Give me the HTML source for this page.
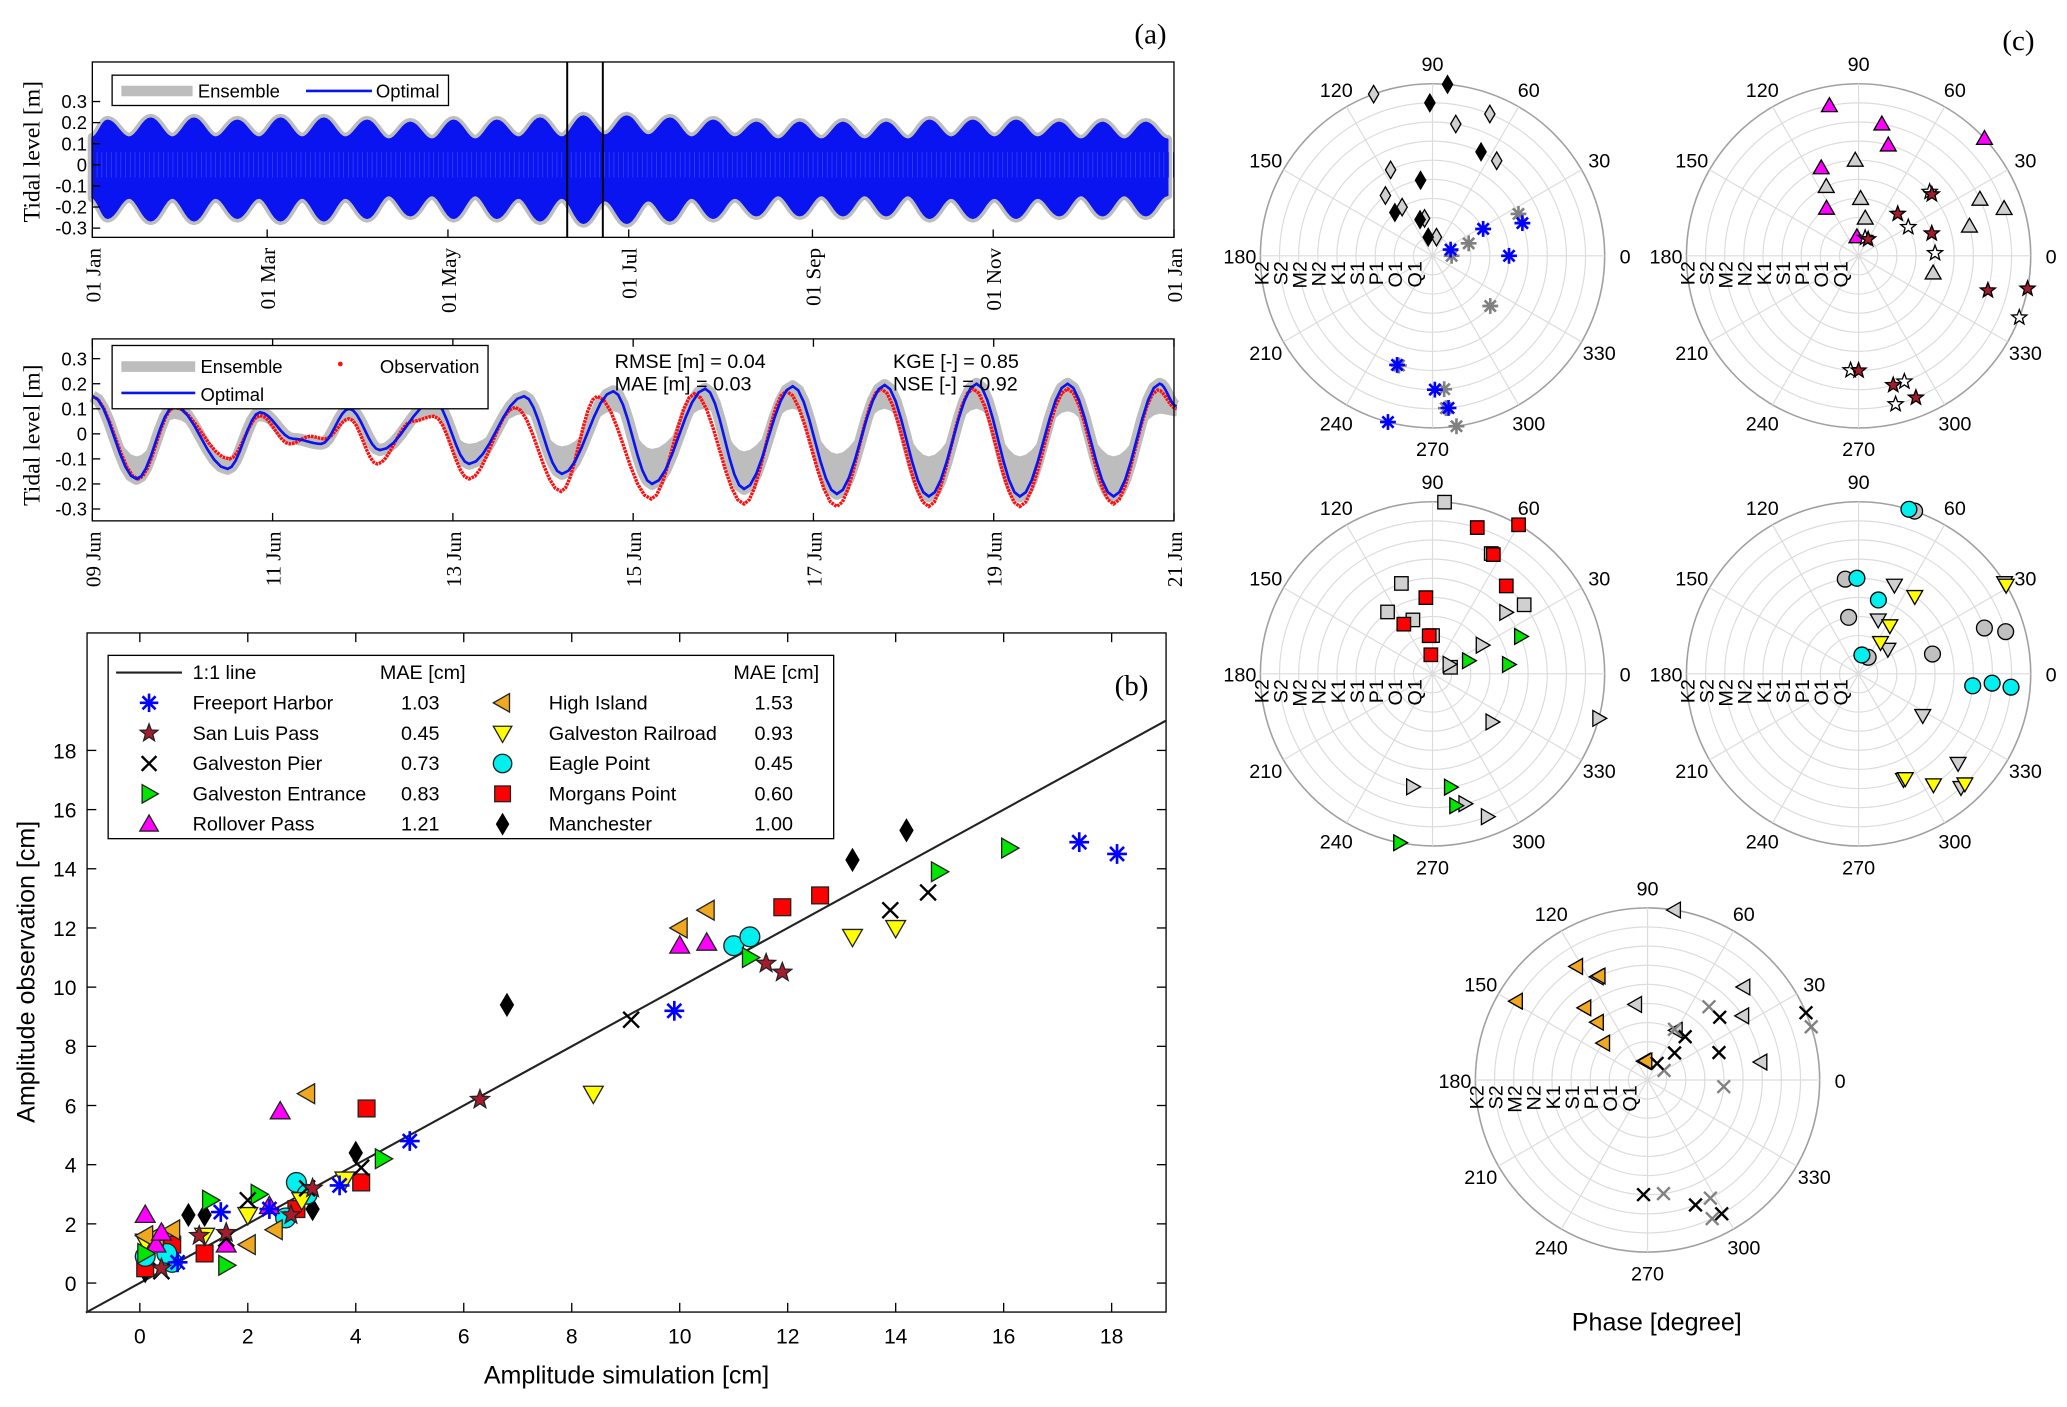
<!DOCTYPE html>
<html><head><meta charset="utf-8"><style>
html,body{margin:0;padding:0;background:#fff}
svg{display:block}
.sans{font-family:"Liberation Sans",Arial,sans-serif}
.serif{font-family:"Liberation Serif","Times New Roman",serif}
</style></head><body>
<svg id="fig" width="2067" height="1407" viewBox="0 0 1567 1067" preserveAspectRatio="none" xmlns="http://www.w3.org/2000/svg">
<rect width="1567" height="1067" fill="#fff"/>
<g id="pa1"></g>
<g id="pa2"></g>
<g id="pb"></g>
<g id="pc"></g>
</svg>
<script>
// ---------- DATA ----------
const springAmp=[0.21,0.22,0.22,0.21,0.22,0.22,0.21,0.20,0.21,0.21,0.22,0.23,0.23,0.22,0.21,0.20,0.20,0.20,0.20,0.21,0.21,0.21,0.20,0.20,0.20];
const neapAmp=[0.13,0.13,0.13,0.13,0.13,0.13,0.12,0.12,0.12,0.13,0.13,0.14,0.14,0.13,0.13,0.12,0.12,0.12,0.12,0.13,0.13,0.13,0.12,0.12,0.12];
const monthTicks=["01 Jan","01 Mar","01 May","01 Jul","01 Sep","01 Nov","01 Jan"];
const monthDays=[0,59,120,181,243,304,365];
const obsT=[0,0.51,0.91,1.52,1.86,2.19,2.42,2.58,2.85,3.16,3.55,3.79,4.18,4.69,5.2,5.6,6.2,6.68,7.23,7.7,8.26,8.75,9.28,9.77,10.29,10.82,11.33,11.82,12.03];
const obsV=[0.15,-0.18,0.106,-0.10,0.073,-0.04,-0.01,-0.02,0.06,-0.12,0.05,0.07,-0.18,0.106,-0.23,0.15,-0.26,0.16,-0.28,0.17,-0.29,0.18,-0.29,0.18,-0.29,0.18,-0.28,0.175,0.10];
const optT=[0,0.49,0.91,1.5,1.86,2.23,2.54,2.85,3.19,3.79,4.18,4.79,5.21,5.78,6.21,6.8,7.23,7.77,8.26,8.79,9.28,9.81,10.29,10.82,11.33,11.84,12.03];
const optV=[0.15,-0.18,0.11,-0.14,0.086,-0.02,-0.04,0.10,-0.065,0.13,-0.12,0.15,-0.16,0.17,-0.20,0.18,-0.22,0.19,-0.24,0.195,-0.25,0.20,-0.25,0.20,-0.25,0.20,0.11];
const ensInnerV=[0.12,-0.09,0.06,-0.10,0.05,-0.03,-0.05,0.06,-0.04,0.07,-0.04,0.08,-0.05,0.09,-0.06,0.10,-0.07,0.10,-0.08,0.10,-0.09,0.10,-0.09,0.09,-0.09,0.08,0.07];
const juneTicks=["09 Jun","11 Jun","13 Jun","15 Jun","17 Jun","19 Jun","21 Jun"];
const levelTicks=[0.3,0.2,0.1,0,-0.1,-0.2,-0.3];
const stations=["Freeport Harbor","San Luis Pass","Galveston Pier","Galveston Entrance","Rollover Pass","High Island","Galveston Railroad","Eagle Point","Morgans Point","Manchester"];
const stationMAE=["1.03","0.45","0.73","0.83","1.21","1.53","0.93","0.45","0.60","1.00"];
const simFreeport=[17.4,18.1,9.9,5.0,3.7,1.5,2.4,0.7], obsFreeport=[14.9,14.5,9.2,4.8,3.3,2.4,2.5,0.7];
const simSanLuis=[6.3,11.6,11.9,1.1,1.6,0.4,3.2,2.8], obsSanLuis=[6.2,10.8,10.5,1.6,1.7,0.5,3.2,2.3];
const simPier=[14.6,13.9,9.1,4.1,0.4,3.1,1.6,2.0], obsPier=[13.2,12.6,8.9,3.9,0.4,3.2,1.5,2.8];
const simEntrance=[16.1,14.8,11.3,4.5,1.3,2.2,1.6,0.1], obsEntrance=[14.7,13.9,11.0,4.2,2.8,3.0,0.6,1.0];
const simRollover=[2.6,10.0,10.5,0.1,1.6,2.4,0.3,0.4], obsRollover=[5.8,11.4,11.5,2.3,1.3,2.6,1.3,1.7];
const simHigh=[3.1,10.0,10.5,2.5,2.0,0.3,0.6,0.1], obsHigh=[6.4,12.0,12.6,1.8,1.3,1.6,1.8,1.6];
const simRail=[8.4,13.2,14.0,3.8,1.2,2.0,0.1,3.0], obsRail=[6.4,11.7,12.0,3.5,1.6,2.3,1.4,2.8];
const simEagle=[11.0,11.3,2.9,3.1,2.7,0.6,0.1,0.5], obsEagle=[11.4,11.7,3.4,3.0,2.2,0.7,0.9,1.0];
const simMorgans=[11.9,12.6,4.2,4.1,2.9,1.2,0.6,0.1], obsMorgans=[12.7,13.1,5.9,3.4,2.5,1.0,1.3,0.5];
const simManch=[14.2,13.2,6.8,4.0,3.2,0.9,1.2,0.1], obsManch=[15.3,14.3,9.4,4.4,2.5,2.3,2.3,0.4];
const ampTicks=[0,2,4,6,8,10,12,14,16,18];
const constituents=["Q1","O1","P1","S1","K1","N2","M2","S2","K2"];
const angleTicks=[0,30,60,90,120,150,180,210,240,270,300,330];
const p1ObsRing=[9,8,6,4,3,2,1], p1ObsPh=[85,91,65,99,131,109,103];
const p1SimRing=[9,8,7,6,5,4,3,2,1], p1SimPh=[110,68,80,56,116,128,122,102,78];
const p1bObsRing=[5,4,3,1,6,7,8,9], p1bObsPh=[20,0,28,19,252,271,276,255];
const p1bSimRing=[5,2,3,1,4,6,7,8,9], p1bSimPh=[26,19,28,0,319,253,275,275,278];
const p2ObsRing=[8,7,6,9,5,3,1], p2ObsPh=[101,80,75,43,113,124,95];
const p2SimRing=[5,4,3,2,7,8,6,4], p2SimPh=[92,115,88,80,25,18,15,347];
const p2bObsRing=[7,9,4,3,5,6,7,8,1], p2bObsPh=[345,349,17,47,40,270,285,292,60];
const p2bSimRing=[9,4,5,3,6,7,8,1], p2bSimPh=[339,2,42,30,266,290,284,70];
const p3ObsRing=[9,8,7,6,4,3,2,1], p3ObsPh=[60,73,63,50,95,120,95,95];
const p3SimRing=[9,7,6,5,4,3,2,1], p3SimPh=[86,64,37,109,126,110,90,20];
const p3bObsRing=[5,4,2,6,7,9], p3bObsPh=[23,7,20,279,280,259];
const p3bSimRing=[5,3,1,9,4,6,7,8], p3bSimPh=[40,30,30,345,321,260,284,291];
const p4ObsRing=[9,5,4,1,6,7,8], p4ObsPh=[73,91,75,80,354,356,355];
const p4SimRing=[9,5,3,1,7,8,4], p4SimPh=[71,98,100,60,20,16,15];
const p4bObsRing=[5,3,2,9,7,8,6], p4bObsPh=[54,57,55,31,304,314,294];
const p4bSimRing=[5,3,2,9,4,6,7,8], p4bSimPh=[68,70,40,32,327,293,318,312];
const p5ObsRing=[8,7,6,5,4,3,1], p5ObsPh=[149,122,115,131,131,140,95];
const p5SimRing=[9,7,6,3,6,4,6,1], p5SimPh=[81,44,34,60,116,99,9,100];
const p5bObsRing=[9,5,3,4,1,2,6,7,8], p5bObsPh=[23,41,49,21,60,45,268,291,299];
const p5bSimRing=[9,4,3,5,1,6,7,8], p5bSimPh=[18,355,62,50,30,278,298,295];

// ---------- HELPERS ----------
const NS="http://www.w3.org/2000/svg";
function mk(parent,tag,attrs){const e=document.createElementNS(NS,tag);for(const k in attrs)e.setAttribute(k,attrs[k]);parent.appendChild(e);return e;}
function txt(parent,x,y,s,size,cls,anchor,extra){const t=mk(parent,'text',Object.assign({x:x,y:y,'font-size':size,'class':cls,'text-anchor':anchor||'start',fill:'#000'},extra||{}));t.textContent=s;return t;}
function tidePath(ts,vs,X,Y){let d='M'+X(ts[0])+','+Y(vs[0]);for(let i=0;i<ts.length-1;i++){const n=8;for(let j=1;j<=n;j++){const f=j/n;const w=(1-Math.cos(Math.PI*f))/2;d+=' L'+X(ts[i]+(ts[i+1]-ts[i])*f).toFixed(2)+','+Y(vs[i]+(vs[i+1]-vs[i])*w).toFixed(2);}}return d;}
function marker(g,type,x,y,s,fill,stroke){
  let e;const h=s/2;const sw=1;
  if(type==='ast'){e=mk(g,'g',{});for(const a of [0,45,90,135]){const r=a*Math.PI/180;mk(e,'line',{x1:x-h*Math.cos(r),y1:y-h*Math.sin(r),x2:x+h*Math.cos(r),y2:y+h*Math.sin(r),stroke:fill,'stroke-width':2});}}
  else if(type==='x'){e=mk(g,'g',{});mk(e,'line',{x1:x-h*0.8,y1:y-h*0.8,x2:x+h*0.8,y2:y+h*0.8,stroke:fill,'stroke-width':1.8});mk(e,'line',{x1:x-h*0.8,y1:y+h*0.8,x2:x+h*0.8,y2:y-h*0.8,stroke:fill,'stroke-width':1.8});}
  else if(type==='circ'){e=mk(g,'circle',{cx:x,cy:y,r:h,fill:fill,stroke:stroke,'stroke-width':sw});}
  else if(type==='sq'){e=mk(g,'rect',{x:x-h*0.85,y:y-h*0.85,width:s*0.85,height:s*0.85,fill:fill,stroke:stroke,'stroke-width':sw});}
  else {let pts;
    if(type==='dia')pts=[[0,-h*1.1],[h*0.65,0],[0,h*1.1],[-h*0.65,0]];
    else if(type==='up')pts=[[0,-h],[h,h*0.75],[-h,h*0.75]];
    else if(type==='down')pts=[[0,h],[h,-h*0.75],[-h,-h*0.75]];
    else if(type==='right')pts=[[h,0],[-h*0.75,-h],[-h*0.75,h]];
    else if(type==='left')pts=[[-h,0],[h*0.75,-h],[h*0.75,h]];
    else if(type==='star'){pts=[];for(let i=0;i<10;i++){const r=i%2?h*0.42:h;const a=-Math.PI/2+i*Math.PI/5;pts.push([r*Math.cos(a),r*Math.sin(a)]);}}
    e=mk(g,'polygon',{points:pts.map(p=>(x+p[0]).toFixed(2)+','+(y+p[1]).toFixed(2)).join(' '),fill:fill,stroke:stroke,'stroke-width':sw});}
  return e;
}

// ---------- PANEL A (annual) ----------
(function(){
  const g=document.getElementById('pa1');
  const x0=70,x1=890,yt=47,yb=180;
  const X=d=>x0+(x1-x0)*d/365, Y=v=>125-v*160;
  const period=365/springAmp.length;
  const tt=[0],uv=[neapAmp[0]],lv=[-neapAmp[0]*1.2];
  for(let i=0;i<springAmp.length;i++){
    const tS=i*period+period*0.35, tN=Math.min(i*period+period*0.85,365);
    tt.push(tS);uv.push(springAmp[i]);lv.push(-springAmp[i]*1.2);
    tt.push(tN);uv.push(neapAmp[i]);lv.push(-neapAmp[i]*1.2);
  }
  const upD=tidePath(tt,uv,X,Y);
  const loPts=tidePath(tt,lv,X,Y).replace('M','').split(' L').reverse();
  const d=upD+' L'+loPts.join(' L')+' Z';
  const ens=mk(g,'path',{d:d,fill:'#bdbdbd',stroke:'#bdbdbd','stroke-width':7,'stroke-linejoin':'round'});
  
  const opt=mk(g,'path',{d:d,fill:'#0a14f0',stroke:'#0a14f0','stroke-width':1.5,'stroke-linejoin':'round'});
  
  for(let dd=0;dd<365;dd+=1.6){mk(g,'line',{x1:X(dd),x2:X(dd),y1:Y(0.06),y2:Y(-0.06),stroke:'#3040ff','stroke-width':0.6});}
  mk(g,'rect',{x:x0,y:yt,width:x1-x0,height:yb-yt,fill:'none',stroke:'#000','stroke-width':1});
  mk(g,'line',{x1:430,x2:430,y1:yt,y2:yb,stroke:'#000','stroke-width':1.5});
  mk(g,'line',{x1:457,x2:457,y1:yt,y2:yb,stroke:'#000','stroke-width':1.5});
  levelTicks.forEach(v=>{mk(g,'line',{x1:x0,x2:x0+6,y1:Y(v),y2:Y(v),stroke:'#000'});const t=txt(g,x0-4,Y(v)+5,String(v),14,'sans','end');});
  monthTicks.forEach((s,i)=>{const x=X(monthDays[i]);mk(g,'line',{x1:x,x2:x,y1:yb,y2:yb-6,stroke:'#000'});const t=txt(g,0,0,s,16,'serif','end',{transform:'translate('+(x+6)+','+(yb+8)+') rotate(-90)'});});
  const yl=txt(g,0,0,'Tidal level [m]',18,'serif','middle',{transform:'translate(30,115) rotate(-90)'});
  const lg=mk(g,'g',{});
  mk(lg,'rect',{x:85,y:57,width:255,height:23,fill:'#fff',stroke:'#000'});
  mk(lg,'line',{x1:92,x2:146,y1:69,y2:69,stroke:'#bdbdbd','stroke-width':8});
  txt(lg,150,74,'Ensemble',14,'sans');
  mk(lg,'line',{x1:232,x2:282,y1:69,y2:69,stroke:'#0a14f0','stroke-width':2});
  txt(lg,285,74,'Optimal',14,'sans');
  const la=txt(g,860,33,'(a)',22,'serif');
})();

// ---------- PANEL A (June) ----------
(function(){
  const g=document.getElementById('pa2');
  const x0=70,x1=890,yt=257,yb=395;
  const X=d=>x0+(x1-x0)*d/12, Y=v=>329-v*190;
  const optD=tidePath(optT,optV,X,Y), innD=tidePath(optT,ensInnerV,X,Y);
  let innRev='';{const pts=innD.replace('M','').split(' L').reverse();innRev=' L'+pts.join(' L');}
  const band=mk(g,'path',{d:optD+innRev+' Z',fill:'#bdbdbd',stroke:'none'});
  
  const bo=mk(g,'path',{d:optD,fill:'none',stroke:'#bdbdbd','stroke-width':9,'stroke-linejoin':'round'});
  
  const ob=mk(g,'path',{d:tidePath(obsT,obsV,X,Y),fill:'none',stroke:'#ff1010','stroke-width':2.6,'stroke-dasharray':'2 0.6'});
  
  const op=mk(g,'path',{d:optD,fill:'none',stroke:'#0a14f0','stroke-width':2});
  
  mk(g,'rect',{x:x0,y:yt,width:x1-x0,height:yb-yt,fill:'none',stroke:'#000','stroke-width':1});
  levelTicks.forEach(v=>{mk(g,'line',{x1:x0,x2:x0+6,y1:Y(v),y2:Y(v),stroke:'#000'});const t=txt(g,x0-4,Y(v)+5,String(v),14,'sans','end');});
  juneTicks.forEach((s,i)=>{const x=X(i*2);mk(g,'line',{x1:x,x2:x,y1:yb,y2:yb-6,stroke:'#000'});mk(g,'line',{x1:x,x2:x,y1:yt,y2:yt+6,stroke:'#000'});const t=txt(g,0,0,s,16,'serif','end',{transform:'translate('+(x+6)+','+(yb+8)+') rotate(-90)'});});
  const yl=txt(g,0,0,'Tidal level [m]',18,'serif','middle',{transform:'translate(30,330) rotate(-90)'});
  const lg=mk(g,'g',{});
  mk(lg,'rect',{x:85,y:262,width:285,height:48,fill:'#fff',stroke:'#000'});
  mk(lg,'line',{x1:92,x2:148,y1:278,y2:278,stroke:'#bdbdbd','stroke-width':8});
  txt(lg,152,283,'Ensemble',14,'sans');
  mk(lg,'circle',{cx:258,cy:276,r:1.8,fill:'#ff1010'});
  txt(lg,288,283,'Observation',14,'sans');
  mk(lg,'line',{x1:92,x2:148,y1:298,y2:298,stroke:'#0a14f0','stroke-width':2});
  txt(lg,152,304,'Optimal',14,'sans');
  const st=mk(g,'g',{});
  txt(st,466,279,'RMSE [m] = 0.04',15,'sans');txt(st,466,296,'MAE [m] = 0.03',15,'sans');
  txt(st,677,279,'KGE [-] = 0.85',15,'sans');txt(st,677,296,'NSE [-] = 0.92',15,'sans');
})();

// ---------- PANEL B ----------
(function(){
  const g=document.getElementById('pb');
  const x0=66,x1=884,yt=480,yb=995;
  const X=v=>106+v*40.93, Y=v=>973-v*22.44;
  mk(g,'rect',{x:x0,y:yt,width:x1-x0,height:yb-yt,fill:'#fff',stroke:'#000'});
  const ln=mk(g,'line',{x1:X(-1),y1:Y(-1),x2:X(19),y2:Y(19),stroke:'#222','stroke-width':1.6});
  
  const styles=[['ast','#0000ff','#0000ff'],['star','#a51d2d','#222'],['x','#000','#000'],['right','#00e600','#222'],['up','#ff00ff','#222'],['left','#f0a820','#222'],['down','#ffff00','#222'],['circ','#00f0f0','#222'],['sq','#ff0000','#222'],['dia','#000','#000']];
  const sims=[simFreeport,simSanLuis,simPier,simEntrance,simRollover,simHigh,simRail,simEagle,simMorgans,simManch];
  const obs=[obsFreeport,obsSanLuis,obsPier,obsEntrance,obsRollover,obsHigh,obsRail,obsEagle,obsMorgans,obsManch];
  const order=[9,8,7,6,5,4,3,2,1,0];
  order.forEach(k=>{const sg=mk(g,'g',{});
    sims[k].forEach((s,i)=>{const m=marker(sg,styles[k][0],X(s),Y(obs[k][i]),15,styles[k][1],styles[k][2]);});});
  ampTicks.forEach(v=>{
    mk(g,'line',{x1:X(v),x2:X(v),y1:yb,y2:yb-7,stroke:'#000'});mk(g,'line',{x1:X(v),x2:X(v),y1:yt,y2:yt+7,stroke:'#000'});
    const t=txt(g,X(v),1019,String(v),16,'sans','middle');
    mk(g,'line',{x1:x0,x2:x0+7,y1:Y(v),y2:Y(v),stroke:'#000'});mk(g,'line',{x1:x1,x2:x1-7,y1:Y(v),y2:Y(v),stroke:'#000'});
    const t2=txt(g,58,Y(v)+6,String(v),16,'sans','end');});
  const xl=txt(g,475,1049,'Amplitude simulation [cm]',19,'sans','middle');
  const yl=txt(g,0,0,'Amplitude observation [cm]',19,'sans','middle',{transform:'translate(26,737) rotate(-90)'});
  const lb=txt(g,845,527,'(b)',22,'serif');
  const lg=mk(g,'g',{});
  mk(lg,'rect',{x:82,y:497,width:550,height:139,fill:'#fff',stroke:'#000'});
  mk(lg,'line',{x1:88,x2:138,y1:510,y2:510,stroke:'#222','stroke-width':1.6});
  txt(lg,146,515,'1:1 line',15,'sans');txt(lg,288,515,'MAE [cm]',15,'sans');txt(lg,556,515,'MAE [cm]',15,'sans');
  for(let k=0;k<10;k++){const col=k<5?0:1;const r=k%5;const y=533+r*23;
    const bx=col?381:113, tx=col?416:146, mx=col?572:304;
    const e=mk(lg,'g',{});
    marker(e,styles[k][0],bx,y,14,styles[k][1],styles[k][2]);
    txt(e,tx,y+5,stations[k],15,'sans');txt(e,mx,y+5,stationMAE[k],15,'sans');}
})();

// ---------- PANEL C ----------
(function(){
  const g=document.getElementById('pc');
  const dr=14.5;
  const plots=[
    {cx:1086,cy:194,series:[[p1SimRing,p1SimPh,'dia','#d0d0d0','#000'],[p1ObsRing,p1ObsPh,'dia','#000','#000'],[p1bSimRing,p1bSimPh,'ast','#808080','#808080'],[p1bObsRing,p1bObsPh,'ast','#0000ff','#0000ff']]},
    {cx:1409,cy:194,series:[[p2SimRing,p2SimPh,'up','#d0d0d0','#000'],[p2ObsRing,p2ObsPh,'up','#ff00ff','#000'],[p2bSimRing,p2bSimPh,'star','#fff','#000'],[p2bObsRing,p2bObsPh,'star','#a51d2d','#000']]},
    {cx:1086,cy:511,series:[[p3SimRing,p3SimPh,'sq','#d0d0d0','#000'],[p3ObsRing,p3ObsPh,'sq','#ff0000','#000'],[p3bSimRing,p3bSimPh,'right','#d0d0d0','#000'],[p3bObsRing,p3bObsPh,'right','#00e600','#000']]},
    {cx:1409,cy:511,series:[[p4SimRing,p4SimPh,'circ','#c0c0c0','#000'],[p4ObsRing,p4ObsPh,'circ','#00f0f0','#000'],[p4bSimRing,p4bSimPh,'down','#d0d0d0','#000'],[p4bObsRing,p4bObsPh,'down','#ffff00','#000']]},
    {cx:1249,cy:819,series:[[p5SimRing,p5SimPh,'left','#d0d0d0','#000'],[p5ObsRing,p5ObsPh,'left','#f0a820','#000'],[p5bSimRing,p5bSimPh,'x','#808080','#808080'],[p5bObsRing,p5bObsPh,'x','#000','#000']]}
  ];
  plots.forEach((p,pi)=>{
    const pg=mk(g,'g',{});
    for(let k=1;k<=9;k++)mk(pg,'circle',{cx:p.cx,cy:p.cy,r:k*dr,fill:'none',stroke:k===9?'#a0a0a0':'#dcdcdc','stroke-width':k===9?1.2:0.9});
    angleTicks.forEach(a=>{const r=a*Math.PI/180;mk(pg,'line',{x1:p.cx,y1:p.cy,x2:p.cx+9*dr*Math.cos(r),y2:p.cy-9*dr*Math.sin(r),stroke:'#dcdcdc','stroke-width':0.9});
      const t=txt(pg,p.cx+146*Math.cos(r),p.cy-146*Math.sin(r)+6,String(a),15,'sans','middle');});
    constituents.forEach((c,i)=>{const t=txt(pg,0,0,c,15,'sans','end',{transform:'translate('+(p.cx-(i+1)*dr+6)+','+(p.cy+4)+') rotate(-90)'});});
    p.series.forEach(s=>{const sg=mk(pg,'g',{});
      s[0].forEach((ring,i)=>{const a=s[1][i]*Math.PI/180;const m=marker(sg,s[2],p.cx+ring*dr*Math.cos(a),p.cy-ring*dr*Math.sin(a),12,s[3],s[4]);});});
  });
  const lc=txt(g,1518,38,'(c)',22,'serif');
  const pt=txt(g,1256,1009,'Phase [degree]',19,'sans','middle');
})();
</script>
</body></html>
